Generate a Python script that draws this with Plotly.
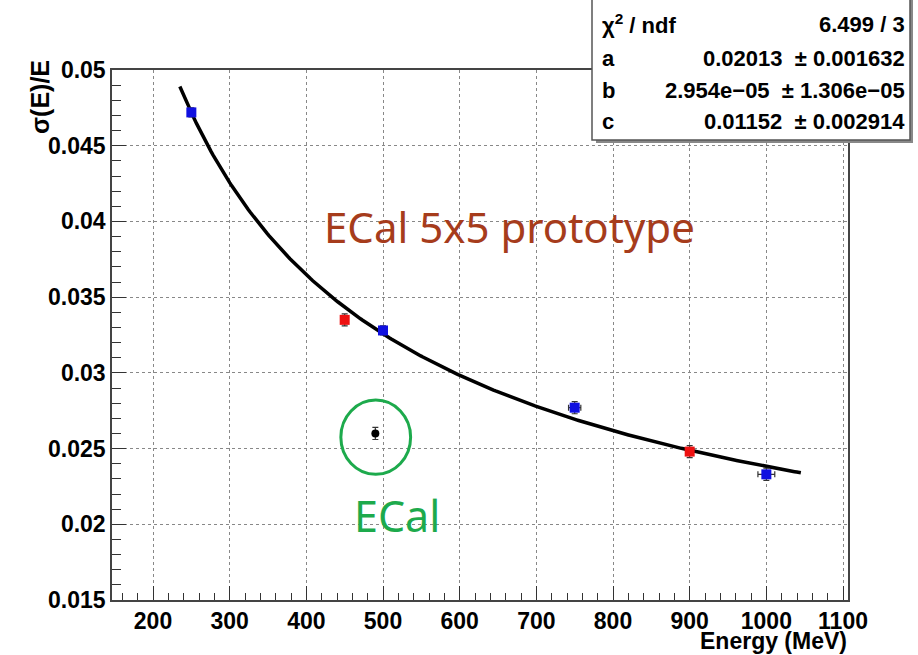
import numpy as np
import plotly.graph_objects as go

# Energy resolution measurements (E in MeV, sigma(E)/E)
blue_energy = [250, 500, 750, 1000]
blue_res = [0.0472, 0.0328, 0.0277, 0.0233]
blue_res_err = [0.0003, 0.0003, 0.0004, 0.0004]
blue_energy_err = [0, 0, 8, 11]

red_energy = [450, 900]
red_res = [0.0335, 0.0248]
red_res_err = [0.0004, 0.0004]

ecal_energy = [490]
ecal_res = [0.0260]
ecal_res_err = [0.0004]

# Fit parameters: sigma/E = sqrt(a^2/E + b/E^2 + c^2), E in GeV
fit_a = 0.02013
fit_b = 2.954e-05
fit_c = 0.01152
fit_a_err = 0.001632
fit_b_err = 1.306e-05
fit_c_err = 0.002914
chi2 = 6.499
ndf = 3
fit_range = [235, 1045]

x_ticks = [200, 300, 400, 500, 600, 700, 800, 900, 1000, 1100]
y_ticks = [0.015, 0.02, 0.025, 0.03, 0.035, 0.04, 0.045, 0.05]
y_tick_text = ["0.015", "0.02", "0.025", "0.03", "0.035", "0.04", "0.045", "0.05"]

e_fit = np.linspace(fit_range[0], fit_range[1], 300)
e_gev = e_fit / 1000.0
res_fit = np.sqrt(fit_a**2 / e_gev + fit_b / e_gev**2 + fit_c**2)

W, H = 918, 655
L, R, T, B = 112, 70, 70, 55
PW, PH = W - L - R, H - T - B


def px(x):
    return (x - L) / PW


def py(y):
    return (H - B - y) / PH


fig = go.Figure()

fig.add_trace(go.Scatter(
    x=e_fit, y=res_fit, mode="lines",
    line=dict(color="black", width=3.5), hoverinfo="skip", showlegend=False))

fig.add_trace(go.Scatter(
    x=blue_energy, y=blue_res, mode="markers",
    marker=dict(symbol="square", size=10, color="#1010e0"),
    error_y=dict(type="data", array=blue_res_err, color="#333333", thickness=1.2, width=3),
    error_x=dict(type="data", array=blue_energy_err, color="#333333", thickness=1.2, width=3),
    showlegend=False))

fig.add_trace(go.Scatter(
    x=red_energy, y=red_res, mode="markers",
    marker=dict(symbol="square", size=10, color="#ee1111"),
    error_y=dict(type="data", array=red_res_err, color="#333333", thickness=1.2, width=3),
    showlegend=False))

fig.add_trace(go.Scatter(
    x=ecal_energy, y=ecal_res, mode="markers",
    marker=dict(symbol="circle", size=8, color="black"),
    error_y=dict(type="data", array=ecal_res_err, color="#333333", thickness=1.2, width=3),
    showlegend=False))

axis_font = dict(family="Liberation Sans", size=23, color="black", weight="bold")

fig.update_xaxes(
    range=[146.5, 1106.5], tickvals=x_ticks, ticks="inside", ticklen=14, tickwidth=1,
    tickcolor="#333333", tickfont=axis_font, ticklabelstandoff=0,
    minor=dict(dtick=20, ticks="inside", ticklen=7, tickcolor="#333333", showgrid=False),
    showgrid=True, gridcolor="#888888", griddash="dot", gridwidth=1.2,
    showline=True, linecolor="#444444", linewidth=1.5, mirror=True, zeroline=False)

fig.update_yaxes(
    range=[0.015, 0.05], tickvals=y_ticks, ticktext=y_tick_text, ticks="inside",
    ticklen=14, tickwidth=1, tickcolor="#333333", tickfont=axis_font,
    minor=dict(dtick=0.001, ticks="inside", ticklen=9, tickcolor="#333333", showgrid=False),
    showgrid=True, gridcolor="#888888", griddash="dot", gridwidth=1.2,
    showline=True, linecolor="#444444", linewidth=1.5, mirror=True, zeroline=False)

shapes = [
    # highlight ring around the ECal point
    dict(type="circle", xref="x", yref="y", x0=445, x1=536, y0=0.0233, y1=0.0282,
         line=dict(color="#1daa4c", width=3)),
    # stats box shadow and box
    dict(type="rect", xref="paper", yref="paper", x0=px(596), x1=px(913), y0=py(143), y1=py(-2),
         line=dict(width=0), fillcolor="#888888", layer="above"),
    dict(type="rect", xref="paper", yref="paper", x0=px(592), x1=px(910), y0=py(140), y1=py(-4),
         line=dict(color="#555555", width=1.5), fillcolor="white", layer="above"),
]

stat_font = dict(family="Liberation Sans", size=22, color="black", weight="bold")
rows = [
    ("χ<sup>2</sup> / ndf", f"{chi2:.3f} / {ndf}"),
    ("a", f"{fit_a:.5f}  ± {fit_a_err:.6f}"),
    ("b", f"{fit_b:.3e}  ± {fit_b_err:.3e}".replace("e-", "e−")),
    ("c", f"{fit_c:.5f}  ± {fit_c_err:.6f}"),
]
row_y = [24, 58, 90, 122]

annotations = []
for (name, val), yy in zip(rows, row_y):
    annotations.append(dict(text=name, xref="paper", yref="paper", x=px(600), y=py(yy),
                            xanchor="left", yanchor="middle", showarrow=False, font=stat_font))
    annotations.append(dict(text=val, xref="paper", yref="paper", x=px(907), y=py(yy),
                            xanchor="right", yanchor="middle", showarrow=False, font=stat_font))

annotations += [
    dict(text="Energy (MeV)", xref="paper", yref="paper", x=px(849), y=py(641),
         xanchor="right", yanchor="middle", showarrow=False,
         font=dict(family="Liberation Sans", size=23, color="black", weight="bold")),
    dict(text="σ(E)/E", xref="paper", yref="paper", x=px(40), y=py(58),
         xanchor="center", yanchor="top", textangle=-90, showarrow=False,
         font=dict(family="Liberation Sans", size=25, color="black", weight="bold")),
    dict(text="ECal 5x5 prototype", xref="paper", yref="paper", x=px(509), y=py(226),
         xanchor="center", yanchor="middle", showarrow=False,
         font=dict(family="Noto Sans", size=42, color="#a63c1c")),
    dict(text="ECal", xref="paper", yref="paper", x=px(397), y=py(515),
         xanchor="center", yanchor="middle", showarrow=False,
         font=dict(family="Noto Sans", size=43, color="#1daa4c")),
]

fig.update_layout(
    width=W, height=H, margin=dict(l=L, r=R, t=T, b=B),
    paper_bgcolor="white", plot_bgcolor="white",
    shapes=shapes, annotations=annotations, showlegend=False)

fig.write_html("out.html")
